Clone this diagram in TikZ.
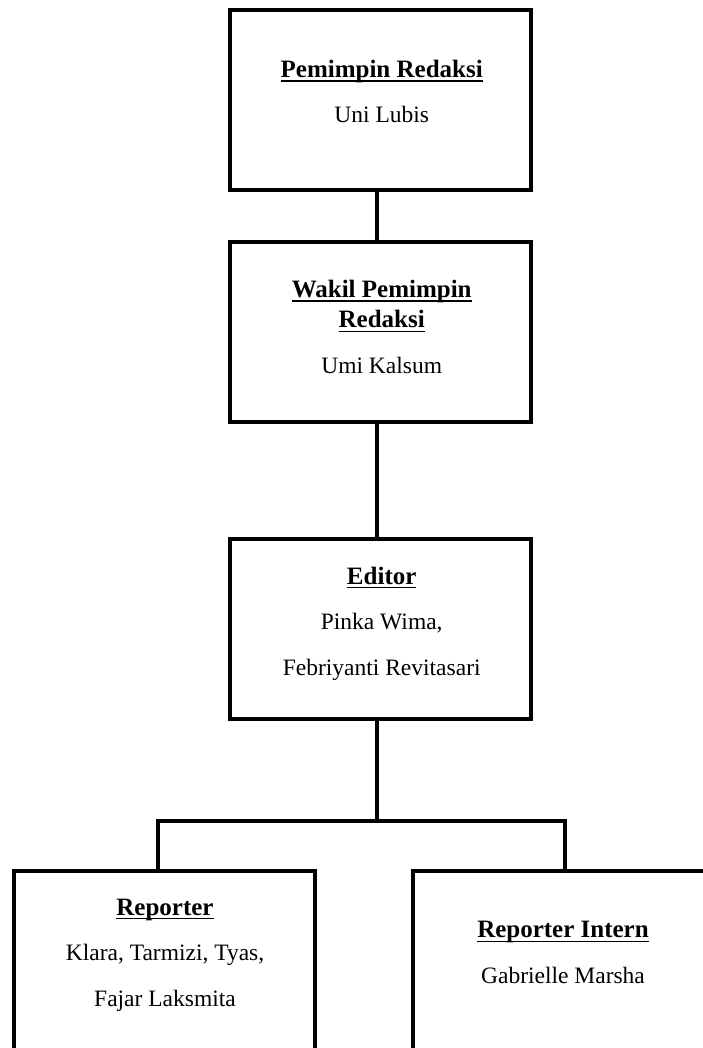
\documentclass[tikz,border=0pt]{standalone}
\usepackage{fontspec}
\setmainfont{Liberation Serif}
\usetikzlibrary{positioning}
\newcommand{\headline}[1]{{\setbox0\hbox{\fontsize{25}{45.5}\selectfont\bfseries #1}%
  \rlap{\vrule width\wd0 height -3pt depth 4.4pt}\box0}}

\begin{document}
\begin{tikzpicture}[
    x=1pt, y=-1pt,
    post/.style={draw, line width=4pt, minimum width=301pt,
                 minimum height=180pt, inner sep=0pt},
    info/.style={align=center, anchor=base, inner sep=0pt,
                 font=\fontsize{23.5}{45.5}\selectfont},
    link/.style={line width=4pt}
  ]
    \useasboundingbox (0,0) rectangle (703,1048);
    \clip (0,0) rectangle (703,1048);

    % boxes
    \node[post] (pr)  at (380.7,100.4) {};
    \node[post] (wpr) at (380.7,332.2) {};
    \node[post] (ed)  at (380.7,629.4) {};
    \node[post] (rep) at (164.5,961.3) {};
    \node[post] (int) at (563.5,961.3) {};

    % texts (base = last line)
    \node[info] (prtext)  at (381.7,122.7) {\headline{Pemimpin Redaksi}\\Uni Lubis};
    \node[info] (wprtext) at (381.7,373.3) {\headline{Wakil Pemimpin}\\[-14.8pt]\headline{Redaksi}\\Umi Kalsum};
    \node[info] (edtext)  at (381.7,675)   {\headline{Editor}\\Pinka Wima,\\Febriyanti Revitasari};
    \node[info] (reptext) at (165,1006)    {\headline{Reporter}\\Klara, Tarmizi, Tyas,\\Fajar Laksmita};
    \node[info] (inttext) at (563,983.3)   {\headline{Reporter Intern}\\Gabrielle Marsha};

    % lines
    \coordinate (split) at ([xshift=-3.4pt,yshift=-99.3pt]ed.south);
    \draw[link] ([xshift=-3.4pt]pr.south) -- ([xshift=-3.4pt]wpr.north);
    \draw[link] ([xshift=-3.4pt]wpr.south) -- ([xshift=-3.4pt]ed.north);
    \draw[link] ([xshift=-3.4pt]ed.south) -- (split);
    \draw[link] ([xshift=-6.8pt]rep.north) |- (split) -| ([xshift=1.8pt]int.north);
\end{tikzpicture}
\end{document}
